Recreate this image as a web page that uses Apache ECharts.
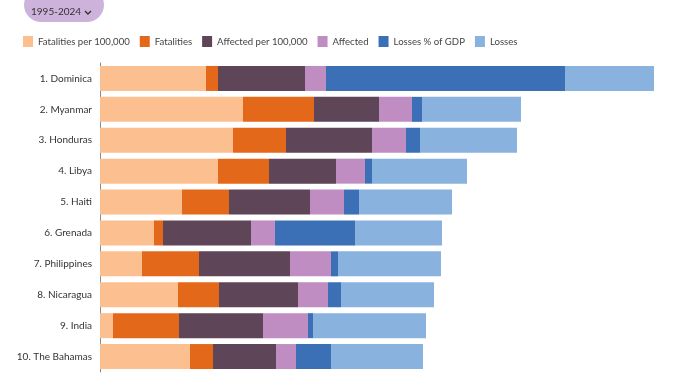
<!DOCTYPE html>
<html>
<head>
<meta charset="utf-8">
<script src="https://cdn.jsdelivr.net/npm/echarts@6/dist/echarts.min.js"></script>
<style>
html,body{margin:0;padding:0;background:#fff;}
#chart{width:678px;height:381px;}
</style>
</head>
<body>
<div id="chart"></div>
<script>
const categories = ["1. Dominica","2. Myanmar","3. Honduras","4. Libya","5. Haiti","6. Grenada","7. Philippines","8. Nicaragua","9. India","10. The Bahamas"];
const seriesNames = ["Fatalities per 100,000","Fatalities","Affected per 100,000","Affected","Losses % of GDP","Losses"];
const fatalitiesPer100k = [10.6,14.3,13.3,11.8,8.2,5.4,4.2,7.8,1.3,9.0];
const fatalities        = [1.2,7.1,5.3,5.1,4.7,0.9,5.7,4.1,6.6,2.3];
const affectedPer100k   = [8.7,6.5,8.6,6.7,8.1,8.8,9.1,7.9,8.4,6.3];
const affected          = [2.1,3.3,3.4,2.9,3.4,2.4,4.1,3.0,4.5,2.0];
const lossesPctGDP      = [23.9,1.0,1.4,0.7,1.5,8.0,0.7,1.3,0.5,3.5];
const losses            = [8.9,9.9,9.7,9.5,9.3,8.7,10.3,9.3,11.3,9.2];
const periodLabel = "1995-2024";

const values = [fatalitiesPer100k,fatalities,affectedPer100k,affected,lossesPctGDP,losses];
const colors = ["#FCBF90","#E4681A","#5E4557","#BF8DC1","#3B6FB6","#8AB2DF"];
const FONT = "Lato";

const chart = echarts.init(document.getElementById('chart'));
chart.setOption({
  animation:false,
  color: colors,
  textStyle:{fontFamily:FONT},
  legend:{
    left:18, top:31,
    itemWidth:10, itemHeight:11, itemGap:10,
    icon:'rect',
    textStyle:{fontFamily:FONT,fontSize:9.6,color:'#444'},
    data: seriesNames
  },
  grid:{left:100, top:63, width:560, height:309, containLabel:false},
  xAxis:{type:'value', min:0, max:56, show:false},
  yAxis:{
    type:'category', data:categories, inverse:true,
    axisLine:{show:true,lineStyle:{color:'#8a8a8a',width:1}},
    axisTick:{show:false},
    axisLabel:{fontFamily:FONT,fontSize:10,color:'#333',margin:8}
  },
  series: seriesNames.map((n,i)=>({
    name:n, type:'bar', stack:'total', data:values[i],
    barWidth:25, itemStyle:{color:colors[i]},
    emphasis:{disabled:true}
  })),
  graphic:[
    {type:'rect', left:24, top:-12, shape:{width:80,height:34,r:17}, style:{fill:'#CDB3DC'}},
    {type:'text', left:31, top:7, style:{text:periodLabel, font:'10px '+FONT, fill:'#333'}},
    {type:'polyline', shape:{points:[[85,11],[88,14],[91,11]]}, style:{stroke:'#333',lineWidth:1.4,fill:null}}
  ]
});
</script>
</body>
</html>
